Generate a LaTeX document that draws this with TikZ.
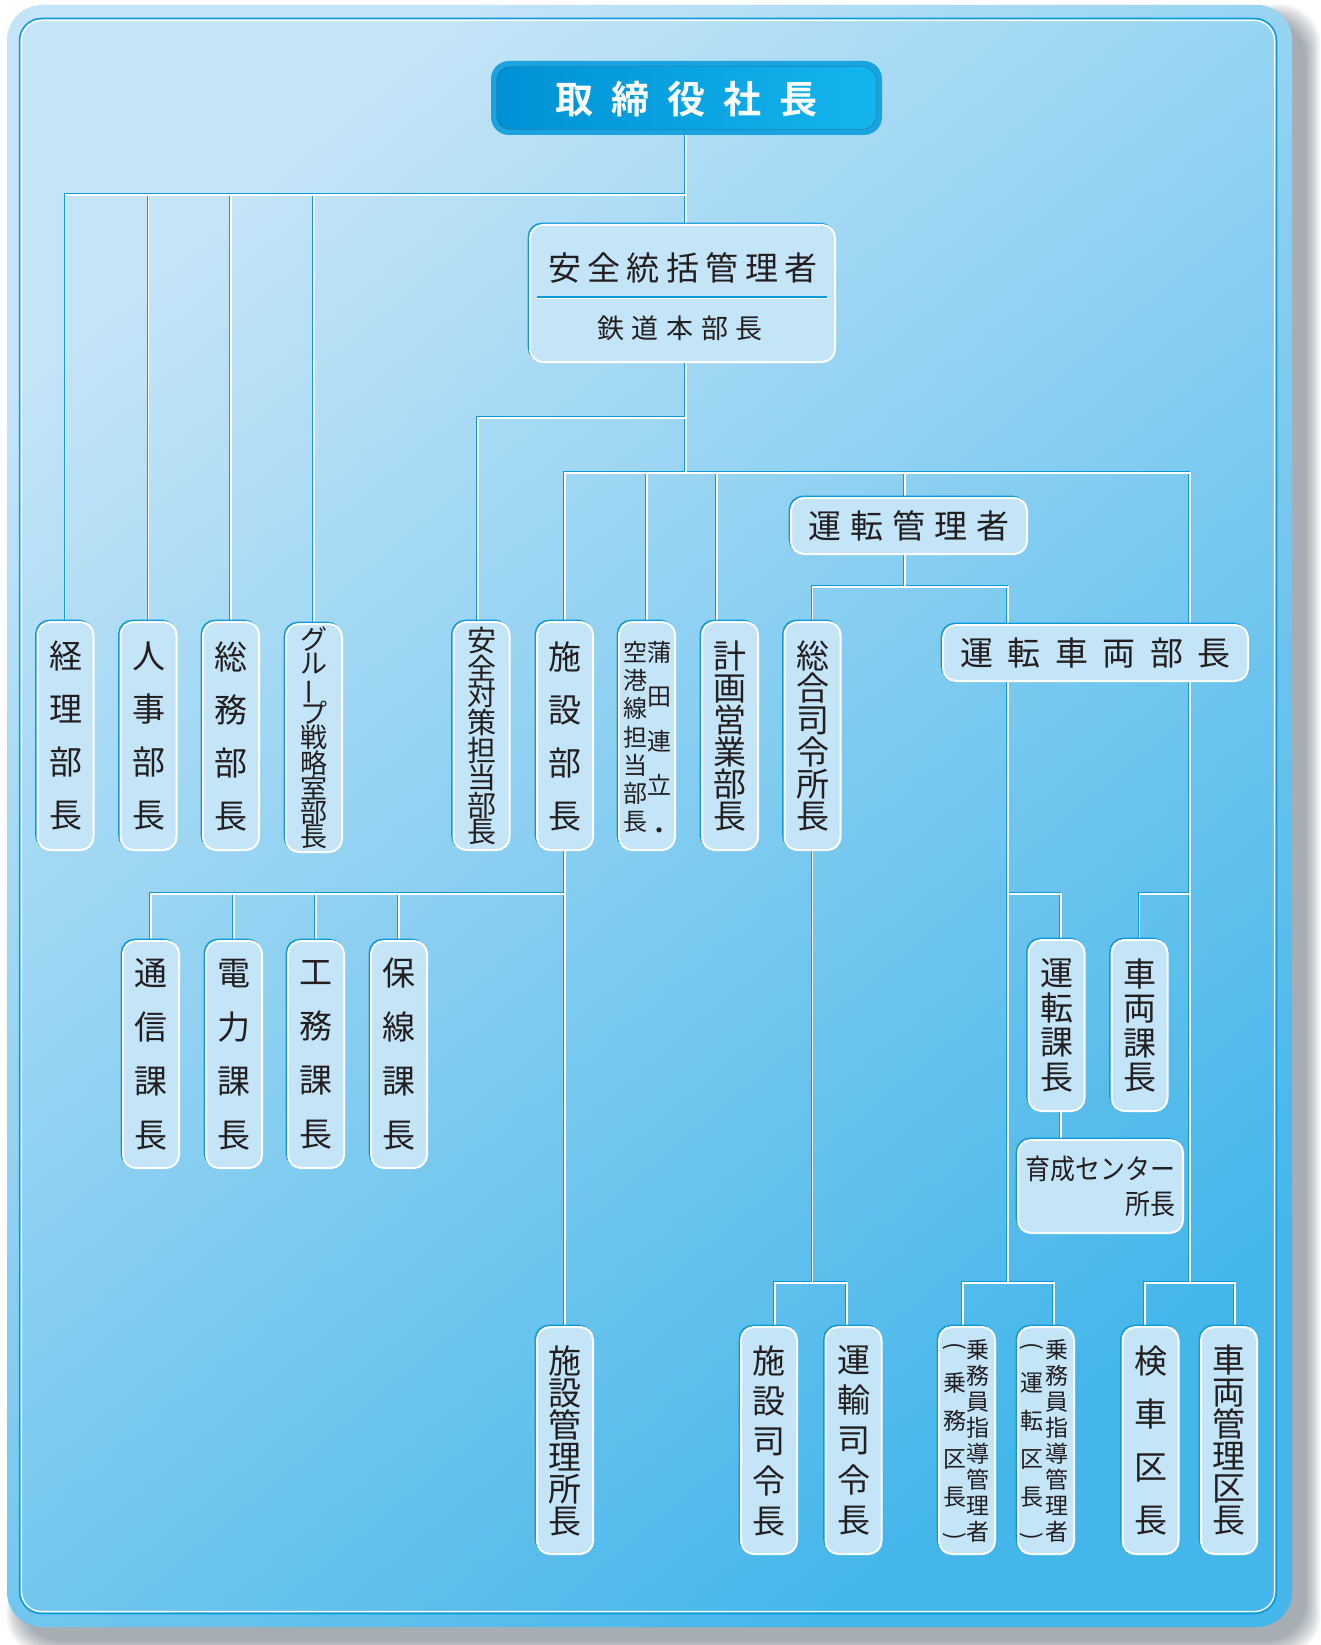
\documentclass[tikz,border=0pt]{standalone}
\usepackage{fontspec}
\usepackage{graphicx}
\newfontfamily\cjk{Noto Sans CJK JP}
\newfontfamily\cjkb{Noto Sans CJK JP Bold}
\usetikzlibrary{calc}
\pgfdeclarelayer{bg}
\pgfdeclarelayer{lines}
\pgfsetlayers{bg,lines,main}
\definecolor{bgA}{RGB}{196,228,247}
\definecolor{bgB}{RGB}{68,182,234}
\definecolor{edge}{RGB}{12,154,218}
\definecolor{boxfill}{RGB}{196,228,247}
\definecolor{txt}{RGB}{35,31,32}
\definecolor{shadowc}{RGB}{60,75,90}
\definecolor{topRim}{RGB}{26,163,223}
\definecolor{topA}{RGB}{0,145,213}
\definecolor{topB}{RGB}{20,181,238}
\newcommand\vbar{\vphantom{グ}\smash{\rotatebox[origin=c]{90}{ー}}}
\newcommand\vlp{\vphantom{乗}\smash{\rotatebox[origin=c]{-90}{(}}}
\newcommand\vrp{\vphantom{乗}\smash{\rotatebox[origin=c]{-90}{)}}}
\tikzset{
  org/.style={draw=white, line width=2pt, rounded corners=13pt, fill=boxfill, text=txt, inner sep=0pt, align=center,
     font=\cjk\fontsize{33}{53}\selectfont,
     preaction={draw=edge, line width=2pt, transform canvas={xshift=-1.3pt, yshift=1.3pt}}},
  vbx/.style={org, minimum width=56pt},
  fs/.style 2 args={font=\cjk\fontsize{#1}{#2}\selectfont},
  lbl/.style={inner sep=0pt, text=txt, align=center},
  linkblue/.style={draw=edge, line width=1.8pt, transform canvas={xshift=-1pt, yshift=1pt}},
  linkwhite/.style={draw=white, line width=1.8pt},
}
\newcommand\connectors[1]{%
  \coordinate (jA) at (686,195);
  \coordinate (jB) at (686,418);
  \coordinate (jC) at (686,473);
  \coordinate (jD) at (1190,473);
  \coordinate (jE) at (1190,1283);
  \coordinate (jF) at (905,587);
  \coordinate (uL) at (1008,587);
  \coordinate (jG) at (1008,1283);
  \coordinate (jH) at (1008,894);
  \coordinate (jI) at (1190,894);
  \draw[#1] (ceo.south -| jA) -- (anz.north -| jA);
  \draw[#1] (jA) -| (keiri.north);
  \draw[#1] (jinji.north |- jA) -- (jinji.north);
  \draw[#1] (soumu.north |- jA) -- (soumu.north);
  \draw[#1] (group.north |- jA) -- (group.north);
  \draw[#1] (anz.south -| jA) -- (jC);
  \coordinate (ta) at ($(taisaku.north)+(-3.5,0)$);
  \draw[#1] (jB) -| (ta);
  \draw[#1] (shisetsu.north) |- (jD) -- (jE);
  \draw[#1] (kamata.north |- jC) -- (kamata.north);
  \coordinate (kk) at ($(keikaku.north)+(-13,0)$);
  \draw[#1] (kk |- jC) -- (kk);
  \draw[#1] (jF |- jC) -- (jF |- ukanri.north);
  \draw[#1] (jF |- ukanri.south) -- (jF);
  \draw[#1] (sougou.north) |- (uL) -- (uL |- usharyo.north);
  \draw[#1] (uL |- usharyo.south) -- (jG);
  \coordinate (uk) at ($(unka.north)+(4.5,0)$);
  \draw[#1] (jH) -| (uk);
  \draw[#1] (jI) -| (shaka.north);
  \coordinate (uk2) at ($(unka.south)+(4.5,0)$);
  \draw[#1] (uk2) -- (uk2 |- ikusei.north);
  \coordinate (ka) at ($(kensha.north)+(-5.5,0)$);
  \coordinate (kb) at ($(skan.north)+(6,0)$);
  \draw[#1] (ka) |- (kb |- jE) -- (kb);
  \coordinate (ja) at ($(joumuA.north)+(-4,0)$);
  \coordinate (jb) at ($(joumuB.north)+(8,0)$);
  \draw[#1] (ja) |- (jb |- jG) -- (jb);
  \draw[#1] (sougou.south) -- (sougou.south |- jG);
  \coordinate (sa) at ($(sshirei.north)+(6,0)$);
  \coordinate (sb) at ($(ushirei.north)+(-6.5,0)$);
  \draw[#1] (sa) |- (sb |- jG) -- (sb);
  \draw[#1] (shisetsu.south) -- (skanri.north);
  \coordinate (jK) at (shisetsu.south |- jH);
  \draw[#1] (jK) -| (tsushin.north);
  \draw[#1] (denryoku.north |- jH) -- (denryoku.north);
  \draw[#1] (koumu.north |- jH) -- (koumu.north);
  \draw[#1] (hosen.north |- jH) -- (hosen.north);
}
\begin{document}
\begin{tikzpicture}[x=1pt, y=-1pt]
\useasboundingbox (0,0) rectangle (1321,1645);
% ---------- background ----------
\begin{pgfonlayer}{bg}
\fill[white] (0,0) rectangle (1321,1645);
\foreach \k in {0,...,9} {
  \fill[shadowc, opacity=0.055, rounded corners=40pt]
    (21-\k*1.6, 19-\k*1.6) rectangle (1306+\k*1.6, 1641+\k*1.6);
}
\shade[rounded corners=35pt, top color=bgA, bottom color=bgB, shading angle=40] (7,5) rectangle (1292,1627);
\draw[edge, line width=1.5pt, rounded corners=22pt] (19.5,18.5) rectangle (1276.5,1613.5);
\draw[white, line width=1.3pt, rounded corners=20pt] (21.5,20.5) rectangle (1274.5,1611.5);
\end{pgfonlayer}
% ---------- top ----------
\node[fill=topRim, rounded corners=18pt, minimum width=391pt, minimum height=74pt, inner sep=0pt] (ceo) at (686.5,98) {};
\fill[rounded corners=14pt, left color=topA, right color=topB] ($(ceo.north west)+(6,6)$) rectangle ($(ceo.south east)+(-6,-6)$);
\node[lbl, text=white, font=\cjkb\fontsize{38}{40}\selectfont] (ceoT) at (686.5,99) {取\hspace{18pt}締\hspace{18pt}役\hspace{18pt}社\hspace{18pt}長};
% ---------- safety manager ----------
\node[org, minimum width=305pt, minimum height=137pt] (anz) at (682.5,293.5) {};
\node[lbl, fs={33}{40}] (anzT) at (683,268) {安\hspace{6.5pt}全\hspace{6.5pt}統\hspace{6.5pt}括\hspace{6.5pt}管\hspace{6.5pt}理\hspace{6.5pt}者};
\draw[edge, line width=1.6pt] ($(anz.north west)+(8,73)$) -- ($(anz.north east)+(-9,73)$);
\draw[white, line width=1pt] ($(anz.north west)+(8,74.8)$) -- ($(anz.north east)+(-9,74.8)$);
\node[lbl, fs={27}{34}] (tetsu) at (680,328) {鉄\hspace{7.5pt}道\hspace{7.5pt}本\hspace{7.5pt}部\hspace{7.5pt}長};
% ---------- row 1 ----------
\node[vbx, minimum height=228pt] (keiri) at (65.5,736) {経\\理\\部\\長};
\node[vbx, minimum height=228pt] (jinji) at (148.5,736) {人\\事\\部\\長};
\node[vbx, minimum height=228pt] (soumu) at (231,736) {総\\務\\部\\長};
\node[vbx, minimum height=228pt, fs={27}{24}] (group) at (314,738) {グ\\ル\\\vbar\\プ\\戦\\略\\室\\部\\長};
\node[vbx, minimum height=228pt, fs={29}{26}] (taisaku) at (481.5,736) {安\\全\\対\\策\\担\\当\\部\\長};
\node[vbx, minimum height=228pt] (shisetsu) at (565,736) {施\\設\\部\\長};
\node[vbx, minimum height=228pt] (kamata) at (647,736) {};
\node[lbl, fs={24}{44.5}] (kamataR) at (659,740) {蒲\\田\\連\\立\\・};
\node[lbl, fs={24}{28.3}] (kamataL) at (635,737) {空\\港\\線\\担\\当\\部\\長};
\node[vbx, minimum height=228pt, fs={33}{32}] (keikaku) at (730,736) {計\\画\\営\\業\\部\\長};
\node[vbx, minimum height=228pt, fs={33}{32}] (sougou) at (812.5,736) {総\\合\\司\\令\\所\\長};
% ---------- operations ----------
\node[org, minimum width=236pt, minimum height=56pt, fs={33}{40}] (ukanri) at (909,526) {運\hspace{9pt}転\hspace{9pt}管\hspace{9pt}理\hspace{9pt}者};
\node[org, minimum width=305pt, minimum height=56pt, fs={33}{40}] (usharyo) at (1095.5,653) {運\hspace{14.5pt}転\hspace{14.5pt}車\hspace{14.5pt}両\hspace{14.5pt}部\hspace{14.5pt}長};
% ---------- row 2 ----------
\node[vbx, minimum height=227pt, fs={33}{54}] (tsushin) at (151,1054.5) {通\\信\\課\\長};
\node[vbx, minimum height=227pt, fs={33}{54}] (denryoku) at (234,1054.5) {電\\力\\課\\長};
\node[vbx, minimum height=227pt, fs={33}{54}] (koumu) at (316,1054.5) {工\\務\\課\\長};
\node[vbx, minimum height=227pt, fs={33}{54}] (hosen) at (399,1054.5) {保\\線\\課\\長};
\node[vbx, minimum height=171pt, fs={33}{34.5}] (unka) at (1056.5,1025.5) {運\\転\\課\\長};
\node[vbx, minimum height=171pt, fs={33}{34.5}] (shaka) at (1139.5,1025.5) {車\\両\\課\\長};
\node[org, minimum width=165pt, minimum height=93pt, font=\cjk\fontsize{28}{35}\selectfont, align=right] (ikusei) at (1100.5,1186.5) {\scalebox{0.89}[1]{育成センター}\\\scalebox{0.89}[1]{所長}};
% ---------- row 3 ----------
\node[vbx, minimum height=227pt, fs={33}{32}] (skanri) at (565,1440.5) {施\\設\\管\\理\\所\\長};
\node[vbx, minimum height=227pt, fs={33}{40}] (sshirei) at (769,1440.5) {施\\設\\司\\令\\長};
\node[vbx, minimum height=227pt, fs={33}{40}] (ushirei) at (853.5,1440.5) {運\\輸\\司\\令\\長};
\node[vbx, minimum height=227pt] (joumuA) at (967,1440.5) {};
\node[lbl, fs={23}{26}] (joumuAR) at (978,1441) {乗\\務\\員\\指\\導\\管\\理\\者};
\node[lbl, fs={23}{38}] (joumuAL) at (955,1440) {\vlp\\乗\\務\\区\\長\\\vrp};
\node[vbx, minimum height=227pt] (joumuB) at (1046,1440.5) {};
\node[lbl, fs={23}{26}] (joumuBR) at (1057,1441) {乗\\務\\員\\指\\導\\管\\理\\者};
\node[lbl, fs={23}{38}] (joumuBL) at (1032,1440) {\vlp\\運\\転\\区\\長\\\vrp};
\node[vbx, minimum height=227pt] (kensha) at (1150.5,1440.5) {検\\車\\区\\長};
\node[vbx, minimum height=227pt, fs={33}{32}] (skan) at (1229,1440.5) {車\\両\\管\\理\\区\\長};
% ---------- connectors ----------
\begin{pgfonlayer}{lines}
\connectors{linkblue}
\connectors{linkwhite}
\end{pgfonlayer}
\end{tikzpicture}
\end{document}
